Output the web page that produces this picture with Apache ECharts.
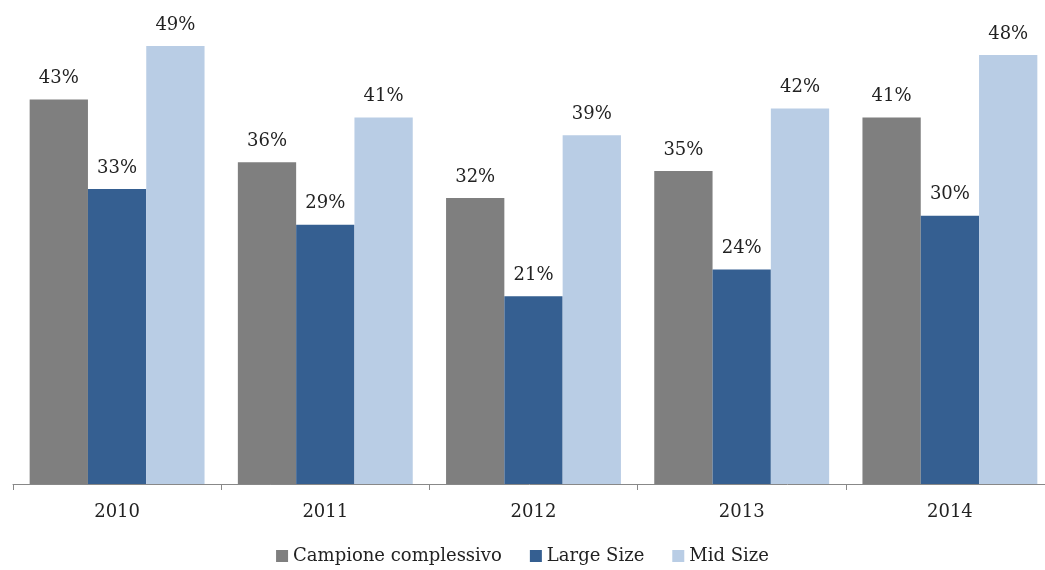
<!DOCTYPE html>
<html>
<head>
<meta charset="utf-8">
<script src="https://cdn.jsdelivr.net/npm/echarts@6/dist/echarts.min.js"></script>
<style>
  html, body { margin: 0; padding: 0; background: #fff; }
  #chart { width: 1045px; height: 570px; }
</style>
</head>
<body>
<div id="chart"></div>
<script>
var years = ['2010', '2011', '2012', '2013', '2014'];
var campione = [43, 36, 32, 35, 41];
var largeSize = [33, 29, 21, 24, 30];
var midSize = [49, 41, 39, 42, 48];

var font = 'DejaVu Serif';

function barSeries(name, data, color) {
    return {
        name: name,
        type: 'bar',
        data: data,
        barGap: '0%',
        barCategoryGap: '16%',
        itemStyle: { color: color },
        label: {
            show: true,
            position: 'top',
            distance: 12,
            formatter: '{c}%',
            fontFamily: font,
            fontSize: 18,
            color: '#222'
        }
    };
}

var chart = echarts.init(document.getElementById('chart'));
chart.setOption({
    animation: false,
    grid: { left: 13, top: 37, width: 1041, height: 447, outerBoundsMode: 'none' },
    legend: {
        bottom: 0,
        left: 'center',
        itemWidth: 12,
        itemHeight: 12,
        itemGap: 28,
        icon: 'rect',
        textStyle: { fontFamily: font, fontSize: 18, color: '#222' },
        data: ['Campione complessivo', 'Large Size', 'Mid Size']
    },
    xAxis: {
        type: 'category',
        data: years,
        axisLine: { lineStyle: { color: '#888', width: 1 } },
        axisTick: { show: true, length: 6, lineStyle: { color: '#888' } },
        axisLabel: { fontFamily: font, fontSize: 18, color: '#222', margin: 19 }
    },
    yAxis: {
        type: 'value',
        min: 0,
        max: 50,
        show: false,
        splitLine: { show: false }
    },
    series: [
        barSeries('Campione complessivo', campione, '#7f7f7f'),
        barSeries('Large Size', largeSize, '#355f91'),
        barSeries('Mid Size', midSize, '#b9cde5')
    ]
});
</script>
</body>
</html>
